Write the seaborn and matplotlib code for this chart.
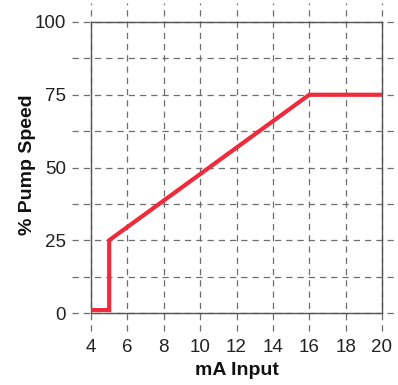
import matplotlib
matplotlib.use("Agg")
import matplotlib.pyplot as plt
import seaborn as sns
import pandas as pd

# Data
ma_input = [4, 5, 5, 16, 20]
pump_speed = [1, 1, 25, 75, 75]
x_ticks = [4, 6, 8, 10, 12, 14, 16, 18, 20]
y_ticks = [0, 25, 50, 75, 100]
y_grid = [0, 12.5, 25, 37.5, 50, 62.5, 75, 87.5, 100]

sns.set_theme(style="white")
plt.rcParams["font.family"] = ["Liberation Sans Narrow", "Liberation Sans", "DejaVu Sans"]

df = pd.DataFrame({"mA Input": ma_input, "% Pump Speed": pump_speed})

fig = plt.figure(figsize=(3.98, 3.85), dpi=100)
ax = fig.add_axes([91 / 398, 1 - 313 / 385, 291 / 398, 291 / 385])

grid_kw = dict(color="#6e6e6e", linewidth=0.9, linestyles=(0, (5, 4)), clip_on=False, zorder=1)
ax.vlines(x_ticks, -0.062, 1.065, transform=ax.get_xaxis_transform(), **grid_kw)
ax.hlines(y_grid, -0.065, 1.06, transform=ax.get_yaxis_transform(), **grid_kw)

# estimator=None keeps the vertical step at 5 mA instead of averaging it
sns.lineplot(data=df, x="mA Input", y="% Pump Speed", sort=False, estimator=None,
             color="#ee2a3b", linewidth=3, ax=ax, zorder=3, solid_joinstyle="miter")

ax.set_xlim(4, 20)
ax.set_ylim(0, 100)
ax.set_xticks(x_ticks)
ax.set_yticks(y_ticks)
for s in ax.spines.values():
    s.set_color("#555555")
    s.set_linewidth(1.0)
ax.tick_params(axis="both", length=0, labelsize=13.5, colors="#222222")
ax.tick_params(axis="x", pad=19)
ax.tick_params(axis="y", pad=18)
ax.set_xlabel("mA Input", fontsize=14, fontweight="bold", color="#111111")
ax.set_ylabel("% Pump Speed", fontsize=14, fontweight="bold", color="#111111")
ax.xaxis.set_label_coords(0.5, -0.17)
ax.yaxis.set_label_coords(-0.19, 0.51)

fig.savefig("out.png", dpi=100)
